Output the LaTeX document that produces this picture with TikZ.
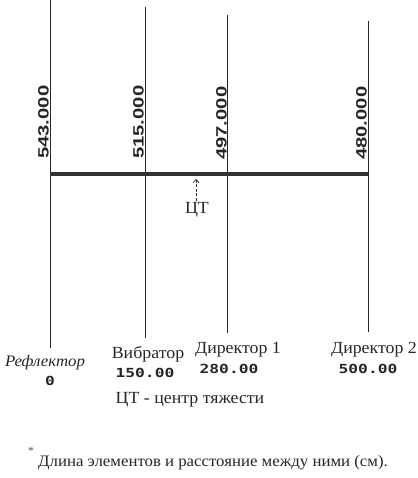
\documentclass[tikz,border=0pt]{standalone}
\usepackage{fontspec}
\setmainfont[FakeStretch=1.05]{Liberation Serif}
\newfontfamily\numfont[FakeStretch=1.3]{DejaVu Sans Mono}
\newfontfamily\rotfont[FakeStretch=1.35]{Liberation Sans}
\usetikzlibrary{arrows.meta}
\begin{document}
\begin{tikzpicture}[x=1pt,y=-1pt,
  element/.style={line width=1pt, draw=black!85},
  boom/.style={line width=3.4pt, draw=black!80},
  rotlab/.style={rotate=90, anchor=south west, inner sep=0pt, font=\rotfont\bfseries\fontsize{15}{15}\selectfont, text=black!85},
  namelab/.style={anchor=base, inner sep=0pt, font=\fontsize{17}{19}\selectfont, text=black!85},
  numlab/.style={anchor=center, inner sep=0pt, font=\numfont\bfseries\fontsize{12.5}{13}\selectfont, text=black!85},
  ctarrow/.style={line width=0.8pt, draw=black!80, dash pattern=on 3pt off 1.5pt, -{Straight Barb[length=3pt,width=6pt]}}
]
\useasboundingbox (0,0) rectangle (417,478);
% element ends
\coordinate (rT) at (50,0);   \coordinate (rB) at (50,348);
\coordinate (vT) at (145,7);  \coordinate (vB) at (145,338);
\coordinate (d1T) at (227,15); \coordinate (d1B) at (227,333);
\coordinate (d2T) at (368,21); \coordinate (d2B) at (368,332);
\coordinate (bL) at (50,174); \coordinate (bR) at (368,174);
% elements
\draw[element] (rT) -- (rB);
\draw[element] (vT) -- (vB);
\draw[element] (d1T) -- (d1B);
\draw[element] (d2T) -- (d2B);
% boom
\draw[boom] (bL) -- (bR);
% element lengths
\node[rotlab] (l1) at (49,159) {543.000};
\node[rotlab] (l2) at (144,159) {515.000};
\node[rotlab] (l3) at (227,160) {497.000};
\node[rotlab] (l4) at (367,160) {480.000};
% centre of gravity
\coordinate (ctp) at (196,179);
\node[namelab] (ct) at (197,213) {ЦТ};
\draw[ctarrow] (ct.north -| ctp) ++(0,-1) -- (ctp);
% names
\node[namelab, font=\itshape\fontsize{16}{18}\selectfont] (refl) at (45,366) {Рефлектор};
\node[namelab] (vib) at (148,358) {Вибратор};
\node[namelab] (dir1) at (238,353) {Директор 1};
\node[namelab] (dir2) at (374,353) {Директор 2};
% positions
\node[numlab] (p1) at (50,381) {0};
\node[numlab] (p2) at (145,373) {150.00};
\node[numlab] (p3) at (229,369) {280.00};
\node[numlab] (p4) at (368,369) {500.00};
% legend
\node[namelab] (leg) at (190,403) {ЦТ - центр тяжести};
\node[anchor=center, inner sep=0pt, font=\fontsize{11}{11}\selectfont, text=black!70] (star) at (31,451) {*};
\node[namelab, anchor=base west, font=\fontsize{16}{18}\selectfont] (note) at (38,466) {Длина элементов и расстояние между ними (см).};
\end{tikzpicture}
\end{document}
